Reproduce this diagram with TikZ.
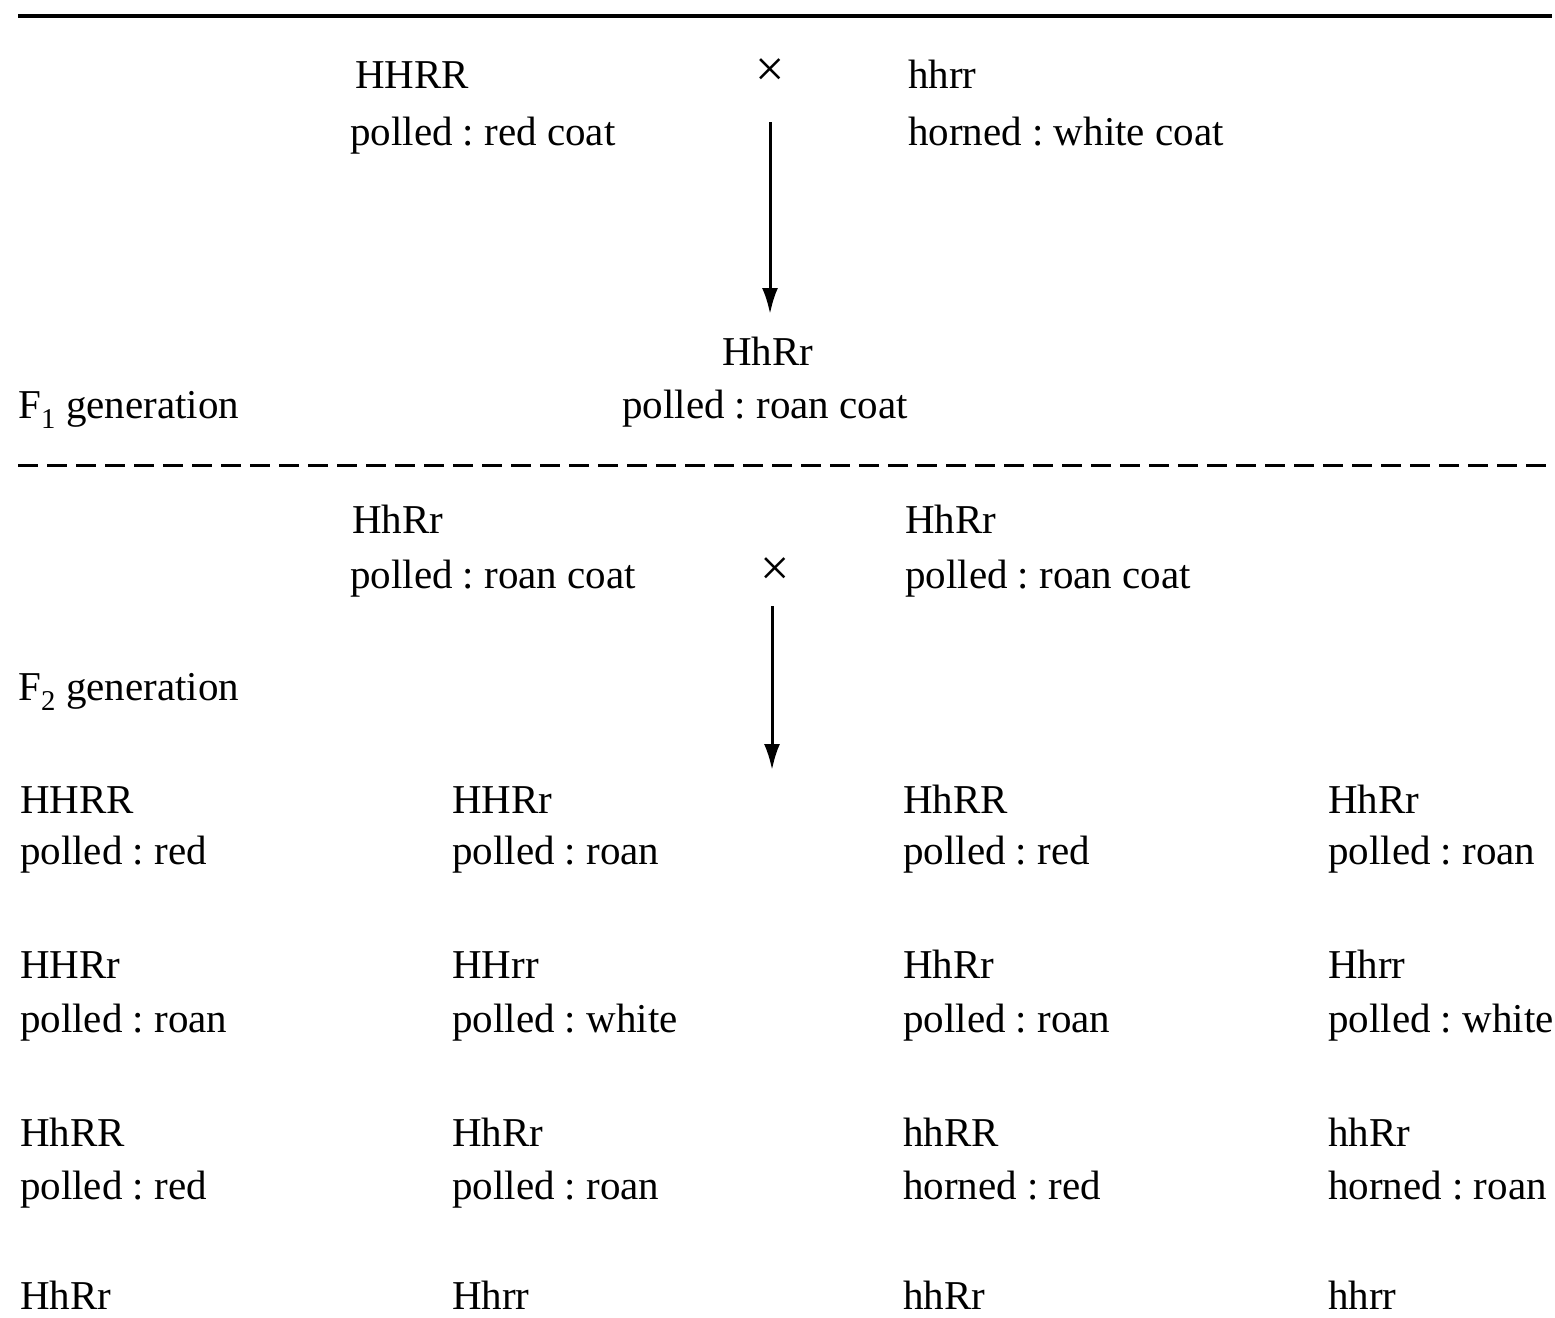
\documentclass[tikz,border=0pt]{standalone}
\usepackage{fontspec}
\setmainfont{Liberation Serif}
\usetikzlibrary{arrows.meta}
\frenchspacing
\begin{document}
\begin{tikzpicture}[x=1pt,y=-1pt,
  lbl/.style={anchor=base west,inner sep=0pt,font=\fontsize{41}{48}\selectfont},
  crs/.style={anchor=center,inner sep=0pt,font=\fontsize{52}{60}\selectfont},
  arr/.style={line width=3pt,-{Latex[length=26pt,width=16pt]}},
  rule/.style={line width=4pt},
  drule/.style={line width=3pt,dash pattern=on 20pt off 9pt}]
\useasboundingbox (0,0) rectangle (1555,1317);
% rules
\coordinate (r1a) at (18,16); \coordinate (r1b) at (1552,16);
\draw[rule] (r1a) -- (r1b);
\coordinate (r2a) at (18,465); \coordinate (r2b) at (1555,465);
\draw[drule] (r2a) -- (r2b);
% parents
\node[lbl] (p1g) at (355,88) {HHRR};
\node[lbl] (p1p) at (350,145) {polled : red coat};
\node[crs] (x1) at (770,73) {×};
\node[lbl] (p2g) at (908,88) {hhrr};
\node[lbl] (p2p) at (908,145) {horned : white coat};
\coordinate (a1s) at (770,122); \coordinate (a1e) at (770,314);
\draw[arr] (a1s) -- (a1e);
% F1
\node[lbl] (f1g) at (722,365) {HhRr};
\node[lbl] (f1p) at (622,418) {polled : roan coat};
\node[lbl] (f1l) at (18,418) {F\textsubscript{1} generation};
% F1 cross
\node[lbl] (q1g) at (352,533) {HhRr};
\node[lbl] (q1p) at (350,588) {polled : roan coat};
\node[crs] (x2) at (775,572) {×};
\node[lbl] (q2g) at (905,533) {HhRr};
\node[lbl] (q2p) at (905,588) {polled : roan coat};
\coordinate (a2s) at (772,606); \coordinate (a2e) at (772,770);
\draw[arr] (a2s) -- (a2e);
\node[lbl] (f2l) at (18,700) {F\textsubscript{2} generation};
% F2 grid
\node[lbl] (g11) at (20,813) {HHRR};
\node[lbl] (h11) at (20,864) {polled : red};
\node[lbl] (g12) at (452,813) {HHRr};
\node[lbl] (h12) at (452,864) {polled : roan};
\node[lbl] (g13) at (903,813) {HhRR};
\node[lbl] (h13) at (903,864) {polled : red};
\node[lbl] (g14) at (1328,813) {HhRr};
\node[lbl] (h14) at (1328,864) {polled : roan};
\node[lbl] (g21) at (20,978) {HHRr};
\node[lbl] (h21) at (20,1032) {polled : roan};
\node[lbl] (g22) at (452,978) {HHrr};
\node[lbl] (h22) at (452,1032) {polled : white};
\node[lbl] (g23) at (903,978) {HhRr};
\node[lbl] (h23) at (903,1032) {polled : roan};
\node[lbl] (g24) at (1328,978) {Hhrr};
\node[lbl] (h24) at (1328,1032) {polled : white};
\node[lbl] (g31) at (20,1146) {HhRR};
\node[lbl] (h31) at (20,1199) {polled : red};
\node[lbl] (g32) at (452,1146) {HhRr};
\node[lbl] (h32) at (452,1199) {polled : roan};
\node[lbl] (g33) at (903,1146) {hhRR};
\node[lbl] (h33) at (903,1199) {horned : red};
\node[lbl] (g34) at (1328,1146) {hhRr};
\node[lbl] (h34) at (1328,1199) {horned : roan};
\node[lbl] (g41) at (20,1309) {HhRr};
\node[lbl] (g42) at (452,1309) {Hhrr};
\node[lbl] (g43) at (903,1309) {hhRr};
\node[lbl] (g44) at (1328,1309) {hhrr};
\end{tikzpicture}
\end{document}
